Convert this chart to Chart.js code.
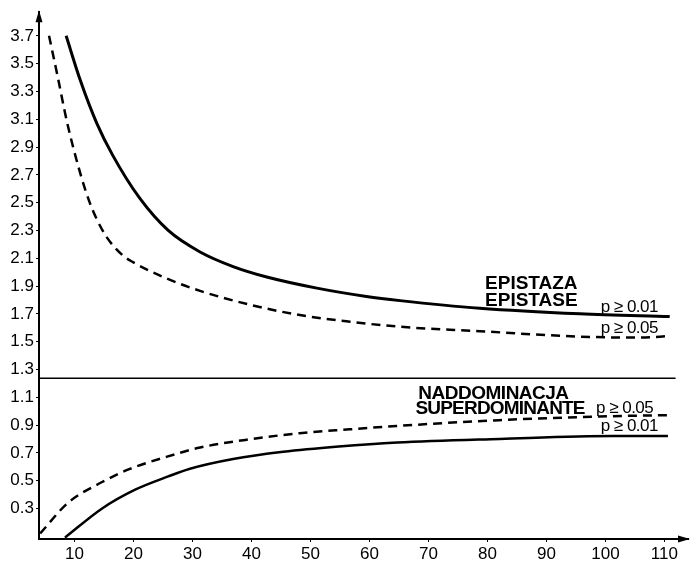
<!DOCTYPE html>
<html>
<head>
<meta charset="utf-8">
<script src="https://cdn.jsdelivr.net/npm/chart.js@4/dist/chart.umd.min.js"></script>
<style>
html,body{margin:0;padding:0;background:#fff;}
#wrap{width:696px;height:567px;}
</style>
</head>
<body>
<div id="wrap"><canvas id="c" width="696" height="567"></canvas></div>
<script>
// ---- data ----
const xTicks = [10, 20, 30, 40, 50, 60, 70, 80, 90, 100, 110];
const yTicks = [0.3, 0.5, 0.7, 0.9, 1.1, 1.3, 1.5, 1.7, 1.9, 2.1, 2.3, 2.5, 2.7, 2.9, 3.1, 3.3, 3.5, 3.7];

// Epistasis, p >= 0.01 (solid)
const epi01X = [8.6, 11.0, 13.8, 16.5, 21.1, 25.9, 31.3, 36.9, 42.6, 51.1, 59.5, 65.2, 78.7, 95.7, 110.9];
const epi01Y = [3.70, 3.38, 3.07, 2.84, 2.53, 2.30, 2.145, 2.04, 1.965, 1.885, 1.825, 1.795, 1.74, 1.70, 1.68];
// Epistasis, p >= 0.05 (dashed)
const epi05X = [5.7, 7.1, 8.8, 11.0, 12.6, 13.8, 15.5, 18.2, 20.0, 25.6, 31.3, 39.8, 48.2, 56.7, 65.2, 78.7, 95.7, 105.9, 110.9];
const epi05Y = [3.70, 3.42, 3.07, 2.71, 2.50, 2.38, 2.25, 2.12, 2.07, 1.955, 1.865, 1.765, 1.691, 1.643, 1.607, 1.575, 1.536, 1.529, 1.54];
// Superdominance, p >= 0.05 (dashed)
const sup05X = [4.2, 8.9, 14.7, 19.4, 25.6, 31.3, 39.8, 48.2, 56.7, 64.6, 82.0, 101.3, 110.6];
const sup05Y = [0.12, 0.34, 0.49, 0.584, 0.671, 0.738, 0.798, 0.841, 0.869, 0.893, 0.935, 0.964, 0.971];
// Superdominance, p >= 0.01 (solid)
const sup01X = [8.4, 14.7, 20.3, 25.9, 29.6, 36.9, 45.4, 54.8, 64.7, 82.1, 101.3, 110.6];
const sup01Y = [0.09, 0.30, 0.435, 0.53, 0.585, 0.655, 0.707, 0.745, 0.774, 0.80, 0.821, 0.821];
// dividing line
const divX = [4, 111.9];
const divY = [1.236, 1.236];

const labelTexts = {
  epiPl: 'EPISTAZA', epiDe: 'EPISTASE',
  supPl: 'NADDOMINACJA', supDe: 'SUPERDOMINANTE',
  p01: 'p \u2265 0.01', p05: 'p \u2265 0.05'
};

function pts(xs, ys){ return xs.map((x,i)=>({x:x, y:ys[i]})); }

const FONT = '"Liberation Sans", Arial, sans-serif';

const overlay = {
  id: 'overlay',
  afterDraw(chart){
    const ctx = chart.ctx, xs = chart.scales.x, ys = chart.scales.y;
    const a = chart.chartArea;
    ctx.save();
    ctx.fillStyle = '#000';
    // arrows
    ctx.beginPath();
    ctx.moveTo(a.left, a.top - 2);
    ctx.lineTo(a.left - 3.5, a.top + 10);
    ctx.lineTo(a.left + 3.5, a.top + 10);
    ctx.closePath(); ctx.fill();
    ctx.beginPath();
    ctx.moveTo(a.right + 2, a.bottom);
    ctx.lineTo(a.right - 10, a.bottom - 3.5);
    ctx.lineTo(a.right - 10, a.bottom + 3.5);
    ctx.closePath(); ctx.fill();
    // text annotations
    const put = (t, xv, yv, font, ls) => {
      ctx.font = font;
      ctx.letterSpacing = ls || '0px';
      ctx.textAlign = 'left';
      ctx.textBaseline = 'alphabetic';
      ctx.fillText(t, xs.getPixelForValue(xv), ys.getPixelForValue(yv));
    };
    const big = 'bold 19px ' + FONT;
    const sm = '17px ' + FONT;
    put(labelTexts.epiPl, 79.6, 1.879, big, '0px');
    put(labelTexts.epiDe, 79.6, 1.757, big, '0px');
    put(labelTexts.p01, 99.2, 1.714, sm, '-0.5px');
    put(labelTexts.p05, 99.2, 1.564, sm, '-0.5px');
    put(labelTexts.supPl, 68.3, 1.086, big, '-0.5px');
    put(labelTexts.supDe, 67.8, 0.979, big, '-0.8px');
    put(labelTexts.p05, 98.4, 0.986, sm, '-0.5px');
    put(labelTexts.p01, 99.2, 0.857, sm, '-0.5px');
    ctx.restore();
  }
};

new Chart(document.getElementById('c'), {
  type: 'scatter',
  data: {
    datasets: [
      { data: pts(epi01X, epi01Y), showLine: true, borderColor: '#000', borderWidth: 3, pointRadius: 0, cubicInterpolationMode: 'monotone' },
      { data: pts(epi05X, epi05Y), showLine: true, borderColor: '#000', borderWidth: 2.5, borderDash: [9, 6], pointRadius: 0, cubicInterpolationMode: 'monotone' },
      { data: pts(sup05X, sup05Y), showLine: true, borderColor: '#000', borderWidth: 2.5, borderDash: [9, 6], pointRadius: 0, cubicInterpolationMode: 'monotone' },
      { data: pts(sup01X, sup01Y), showLine: true, borderColor: '#000', borderWidth: 2.5, pointRadius: 0, cubicInterpolationMode: 'monotone' },
      { data: pts(divX, divY), showLine: true, borderColor: '#000', borderWidth: 1.5, pointRadius: 0 }
    ]
  },
  options: {
    responsive: false,
    animation: false,
    devicePixelRatio: 1,
    layout: { padding: { left: 0, top: 8, right: 8, bottom: 0 } },
    plugins: { legend: { display: false }, tooltip: { enabled: false } },
    scales: {
      x: {
        type: 'linear', min: 4, max: 114,
        afterBuildTicks: s => { s.ticks = xTicks.map(v => ({ value: v })); },
        afterFit: s => { s.height = 28; },
        grid: { display: true, drawOnChartArea: false, tickLength: 3, color: '#000', lineWidth: 1 },
        border: { display: true, color: '#000', width: 2 },
        ticks: { color: '#000', padding: 2, maxRotation: 0, autoSkip: false, font: { family: FONT, size: 17 }, callback: v => String(v) }
      },
      y: {
        type: 'linear', min: 0.08, max: 3.87,
        afterBuildTicks: s => { s.ticks = yTicks.map(v => ({ value: v })); },
        afterFit: s => { s.width = 39; },
        grid: { display: true, drawOnChartArea: false, tickLength: 3, color: '#000', lineWidth: 1 },
        border: { display: true, color: '#000', width: 2 },
        ticks: { color: '#000', padding: 2, autoSkip: false, font: { family: FONT, size: 17 }, callback: v => v.toFixed(1) }
      }
    }
  },
  plugins: [overlay]
});
</script>
</body>
</html>
